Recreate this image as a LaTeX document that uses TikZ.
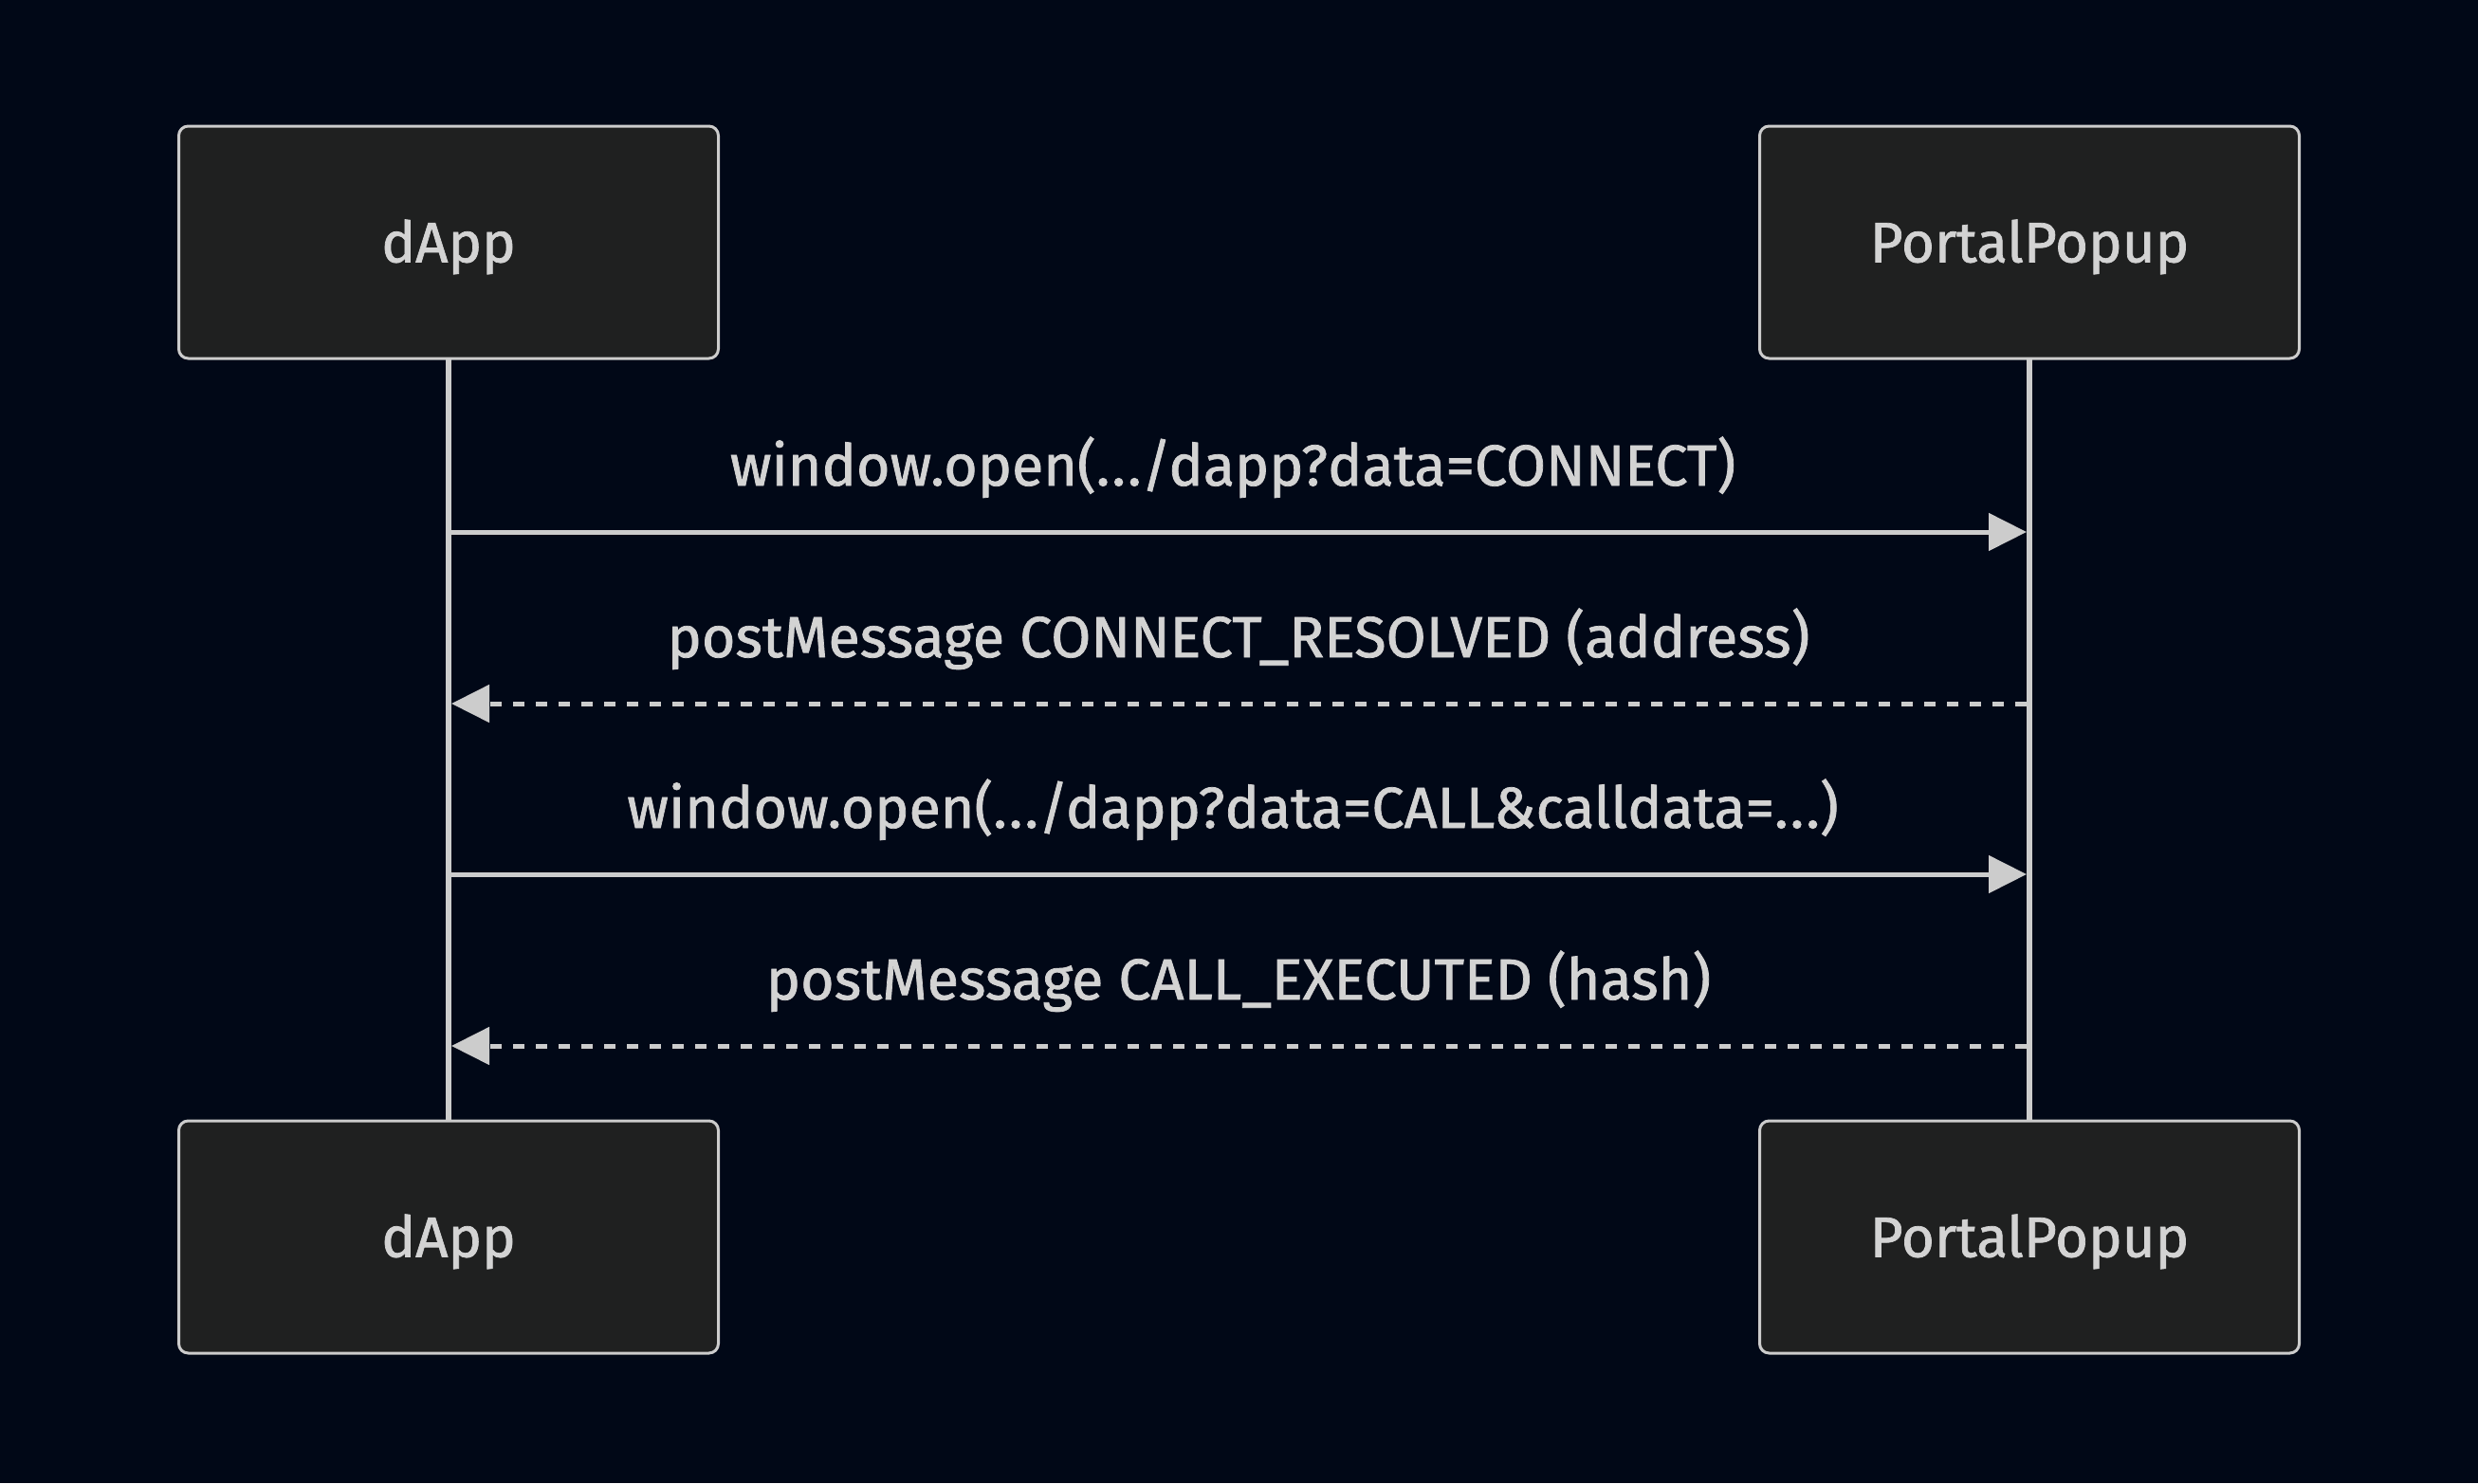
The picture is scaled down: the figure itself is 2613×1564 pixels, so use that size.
\documentclass[tikz,border=0pt]{standalone}
\usepackage{fontspec}
\setmainfont{Fira Sans}[FakeBold=1.2]
\usetikzlibrary{arrows.meta}
\definecolor{bgc}{RGB}{1,8,23}
\definecolor{boxfill}{RGB}{31,32,32}
\definecolor{linec}{RGB}{204,204,204}
\definecolor{txtc}{RGB}{211,211,211}
\newcommand{\dd}{.\kern2pt.\kern2pt.}
\begin{document}
\begin{tikzpicture}[x=1pt,y=-1pt,
  actor/.style={draw=linec,line width=3pt,fill=boxfill,rounded corners=10pt,minimum width=569pt,minimum height=245pt,inner sep=0pt,text=txtc,text height=48pt,text depth=6pt,font=\fontsize{60}{62}\selectfont},
  lifeline/.style={draw=linec,line width=6pt},
  msg/.style={draw=linec,line width=5pt,-{Triangle[length=40pt,width=39pt]}},
  reply/.style={msg,dash pattern=on 12pt off 12pt},
  lbl/.style={text=txtc,anchor=base,inner sep=0pt,font=\fontsize{61}{63}\selectfont}]
\fill[bgc] (0,0) rectangle (2613,1564);
\useasboundingbox (0,0) rectangle (2613,1564);
\coordinate (la) at (473,378);
\coordinate (lb) at (2140,378);
\coordinate (la2) at (473,1182);
\coordinate (lb2) at (2140,1182);
\draw[lifeline] (la) -- (la2);
\draw[lifeline] (lb) -- (lb2);
\node[actor] (a1) at (473,255.5) {dApp};
\node[actor] (b1) at (2140,255.5) {PortalPopup};
\node[actor] (a2) at (473,1304.5) {dApp};
\node[actor] (b2) at (2140,1304.5) {PortalPopup};
% messages
\coordinate (m1s) at (476,561); \coordinate (m1e) at (2137,561);
\coordinate (m2s) at (2137,742); \coordinate (m2e) at (476,742);
\coordinate (m3s) at (476,922); \coordinate (m3e) at (2137,922);
\coordinate (m4s) at (2137,1103); \coordinate (m4e) at (476,1103);
\draw[msg] (m1s) -- (m1e);
\draw[reply] (m2s) -- (m2e);
\draw[msg] (m3s) -- (m3e);
\draw[reply] (m4s) -- (m4e);
\node[lbl] (t1) at (1300,512) {window.open(\dd/dapp?data=CONNECT)};
\node[lbl] (t2) at (1306,693) {postMessage CONNECT\_RESOLVED (address)};
\node[lbl] (t3) at (1300,873) {window.open(\dd/dapp?data=CALL\&calldata=\dd)};
\node[lbl] (t4) at (1306,1054) {postMessage CALL\_EXECUTED (hash)};
\end{tikzpicture}
\end{document}
